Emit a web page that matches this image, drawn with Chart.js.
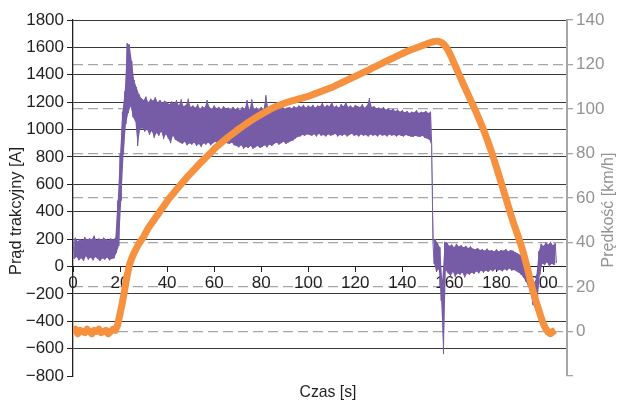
<!DOCTYPE html>
<html lang="pl">
<head>
<meta charset="utf-8">
<title>Prąd trakcyjny i prędkość</title>
<script src="https://cdn.jsdelivr.net/npm/chart.js@4.4.1/dist/chart.umd.min.js"></script>
<style>
  html, body { margin: 0; padding: 0; background: #fff; }
  #wrap { width: 622px; height: 402px; position: relative; }
</style>
</head>
<body>
<div id="wrap"><canvas id="chart"></canvas></div>
<script>
// Prąd trakcyjny [A] - górna i dolna obwiednia szumu, co 1 s (t = 0..205 s)
const currentHigh = [
  195, 210, 185, 200, 190, 215, 195, 205, 200, 225, 190, 205, 195, 210, 200, 190, 205, 195,
  210, 480, 820, 1130, 1280, 1630, 1620, 1500, 1360, 1310, 1260, 1230,
  1215, 1240, 1200, 1225, 1210, 1235, 1200, 1215, 1195, 1210,
  1200, 1185, 1205, 1190, 1215, 1175, 1220, 1170, 1180, 1225,
  1165, 1175, 1160, 1185, 1150, 1170, 1160, 1215, 1165, 1150,
  1175, 1155, 1165, 1150, 1170, 1155, 1160, 1145, 1165, 1150,
  1160, 1140, 1165, 1150, 1215, 1145, 1220, 1150, 1160, 1145,
  1165, 1150, 1250, 1155, 1145, 1160, 1150, 1165, 1155, 1170,
  1150, 1160, 1165, 1155, 1170, 1160, 1175, 1165, 1180, 1160,
  1175, 1165, 1180, 1160, 1175, 1170, 1195, 1165, 1180, 1170,
  1200, 1165, 1175, 1160, 1185, 1170, 1200, 1165, 1175, 1160,
  1180, 1170, 1165, 1185, 1160, 1175, 1230, 1165, 1170, 1155,
  1160, 1150, 1165, 1145, 1155, 1140, 1150, 1135, 1145, 1130,
  1140, 1125, 1135, 1120, 1130, 1125, 1140, 1120, 1130, 1125,
  1135, 1120, 1130, 180, 200, 170, 140, -100, 180, 175,
  150, 160, 140, 165, 145, 155, 140, 150, 135, 145,
  130, 125, 135, 120, 125, 115, 130, 115, 120, 110,
  125, 110, 120, 115, 125, 110, 120, 115, 105, 95,
  85, 70, 40, 0, -60, -120, -180, -60, 110, 165,
  150, 175, 160, 180, 155, 170
];
const currentLow = [
  55, 70, 45, 60, 40, 75, 50, 65, 45, 70, 55, 40, 60, 50, 65, 45, 55, 60,
  100, 150, 480, 820, 1040, 1120, 1170, 1090, 1060, 880, 1000, 1010,
  985, 1000, 960, 990, 940, 975, 955, 985, 930, 965,
  935, 900, 955, 925, 915, 905, 895, 910, 885, 900,
  890, 905, 880, 895, 875, 900, 890, 905, 885, 900,
  910, 895, 905, 890, 915, 900, 895, 905, 885, 880,
  870, 885, 860, 875, 865, 880, 860, 870, 880, 865,
  875, 885, 870, 890, 880, 895, 905, 890, 900, 910,
  895, 905, 915, 920, 935, 945, 950, 960, 955, 965,
  960, 955, 965, 950, 970, 955, 960, 950, 965, 955,
  960, 970, 950, 960, 955, 965, 950, 960, 970, 955,
  960, 950, 965, 955, 960, 950, 965, 955, 960, 950,
  965, 955, 960, 950, 965, 955, 960, 950, 960, 955,
  950, 960, 955, 950, 945, 955, 950, 945, 955, 940,
  935, 925, 880, 20, -40, -20, -250, -640, -30, -50,
  -70, -40, -75, -50, -60, -45, -80, -50, -60, -45,
  -55, -35, -50, -30, -45, -30, -40, -25, -35, -20,
  -30, -25, -35, -20, -30, -15, -30, -25, -35, -45,
  -60, -80, -110, -140, -200, -280, -300, -220, -60, 20,
  10, 30, 0, 20, 10, 25
];
// Prędkość [km/h], co 1 s (t = 0..205 s)
const speed = [
  0, 1, -1, 0.5, 0, -0.5, 1, 0, -1, 0.5, 0, 1, -0.5, 0, 0.5, -1, 0, 1, 0.5,
  3, 8, 13, 19, 25, 30, 33, 35.5, 37.5, 39.5, 41,
  42.5, 44.5, 46.5, 48, 49.5, 51, 52.5, 54, 55.5, 57,
  58.5, 60, 61.2, 62.5, 63.8, 65, 66.3, 67.5, 68.7, 70,
  71, 72.2, 73.3, 74.5, 75.6, 76.7, 77.7, 78.8, 79.8, 80.8,
  82, 83, 83.9, 84.8, 85.7, 86.5, 87.4, 88.2, 89, 89.8,
  90.6, 91.4, 92.1, 92.9, 93.6, 94.3, 95, 95.7, 96.3, 97,
  97.6, 98.2, 98.8, 99.4, 100, 100.5, 101, 101.4, 101.8, 102.2,
  102.6, 103, 103.3, 103.6, 103.9, 104.2, 104.5, 104.8, 105.1, 105.4,
  105.7, 106.1, 106.5, 106.9, 107.3, 107.7, 108.1, 108.5, 108.9, 109.3,
  109.7, 110.2, 110.7, 111.2, 111.7, 112.2, 112.7, 113.2, 113.7, 114.2,
  114.7, 115.2, 115.7, 116.2, 116.7, 117.2, 117.7, 118.3, 118.8, 119.3,
  119.8, 120.3, 120.9, 121.4, 121.9, 122.4, 122.9, 123.4, 123.9, 124.4,
  124.9, 125.4, 125.9, 126.3, 126.7, 127.1, 127.5, 127.9, 128.3, 128.7,
  129.1, 129.5, 129.9, 130.2, 130.4, 130.5, 130.2, 129.6, 128.6, 127.2,
  125.3, 123, 120.6, 118.2, 115.8, 113.4, 111, 108.7, 106.4, 104.1,
  101.8, 99.5, 97, 94.5, 92, 89.3, 86.5, 83.5, 80.4, 77.2,
  73.8, 70.4, 67, 63.5, 60, 56.5, 53, 49.5, 46.5, 43.5,
  40.3, 37, 33.2, 29.2, 24.8, 20.5, 16.5, 13, 9.6, 6.3,
  3.3, 1.2, -0.3, -1, 0, 0.5
];

const timeRange = [0, 210];
const currentRange = [-800, 1800];
const speedRange = [-20, 140];

// górna obwiednia w pełnej sekundzie, dolna pół sekundy później
const highPoints = currentHigh.map((v, i) => ({ x: i, y: v }));
const lowPoints = currentLow.map((v, i) => ({ x: i + 0.5, y: v }));
const zigzagPoints = [];
highPoints.forEach((p, i) => { zigzagPoints.push(p, lowPoints[i]); });
const speedPoints = speed.map((v, i) => ({ x: i, y: v }));

const FONT = { family: "'Liberation Sans', Arial, sans-serif", size: 17 };
const BLACK = '#231f20';
const GREY = '#a6a6a6';
const PURPLE = '#765ca6';
const minus = v => (v < 0 ? '\u2212' + Math.abs(v) : String(v));

// tytuły osi rysowane ręcznie (prawy ma czytać się od dołu do góry), lekko zwężone
function drawTitle(c, text, x, y, width, rotate) {
  c.save();
  c.translate(x, y);
  if (rotate) c.rotate(-Math.PI / 2);
  c.scale(width / c.measureText(text).width, 1);
  c.fillText(text, 0, 0);
  c.restore();
}
const axisTitles = {
  id: 'axisTitles',
  afterDraw(chart) {
    const c = chart.ctx;
    c.save();
    c.font = "17px 'Liberation Sans', Arial, sans-serif";
    c.textAlign = 'center';
    c.textBaseline = 'middle';
    c.fillStyle = BLACK;
    drawTitle(c, 'Czas [s]', 328, 392, 57, false);
    drawTitle(c, 'Prąd trakcyjny [A]', 16, 211, 128, true);
    c.fillStyle = '#939393';
    drawTitle(c, 'Prędkość [km/h]', 608, 210, 115, true);
    c.restore();
  }
};

new Chart(document.getElementById('chart'), {
  type: 'line',
  data: {
    datasets: [
      {
        label: 'Prędkość',
        data: speedPoints,
        yAxisID: 'y2',
        borderColor: '#f5913f',
        borderWidth: 7,
        borderJoinStyle: 'round',
        pointRadius: 0,
        order: 0
      },
      {
        label: 'Prąd trakcyjny',
        data: zigzagPoints,
        yAxisID: 'y',
        borderColor: PURPLE,
        borderWidth: 1,
        pointRadius: 0,
        order: 1
      },
      {
        label: 'Prąd - góra',
        data: highPoints,
        yAxisID: 'y',
        borderWidth: 0,
        pointRadius: 0,
        fill: false,
        order: 2
      },
      {
        label: 'Prąd - dół',
        data: lowPoints,
        yAxisID: 'y',
        borderWidth: 0,
        pointRadius: 0,
        fill: '-1',
        backgroundColor: PURPLE,
        order: 3
      }
    ]
  },
  options: {
    responsive: true,
    maintainAspectRatio: false,
    animation: false,
    events: [],
    layout: { padding: { top: 20, bottom: 26, left: 0, right: 0 } },
    plugins: { legend: { display: false }, tooltip: { enabled: false } },
    scales: {
      x: {
        type: 'linear',
        position: { y: 0 },
        min: timeRange[0],
        max: timeRange[1],
        ticks: { stepSize: 20, includeBounds: false, color: BLACK, font: FONT, padding: 2, maxRotation: 0, autoSkip: false },
        grid: { drawOnChartArea: false, tickLength: 5, color: BLACK },
        border: { color: BLACK, width: 1 }
      },
      y: {
        position: 'left',
        min: currentRange[0],
        max: currentRange[1],
        ticks: { stepSize: 200, color: BLACK, font: FONT, padding: 3, callback: minus },
        grid: {
          color: c => (c.tick.value === currentRange[0] ? 'rgba(0,0,0,0)' : '#3a3a3a'),
          tickColor: BLACK,
          tickLength: 6
        },
        border: { color: BLACK, width: 1.3 },
        afterFit: s => { s.width = 73; }
      },
      y2: {
        position: 'right',
        min: speedRange[0],
        max: speedRange[1],
        ticks: { stepSize: 20, color: '#939393', font: FONT, padding: 3, callback: v => (v < 0 ? '' : v) },
        grid: {
          color: c => (c.tick.value === speedRange[0] || c.tick.value === speedRange[1] ? 'rgba(0,0,0,0)' : GREY),
          lineWidth: 1.3,
          tickColor: GREY,
          tickLength: 6
        },
        border: { dash: [10, 5], color: GREY, width: 2 },
        afterFit: s => { s.width = 55; }
      }
    }
  },
  plugins: [axisTitles]
});
</script>
</body>
</html>
